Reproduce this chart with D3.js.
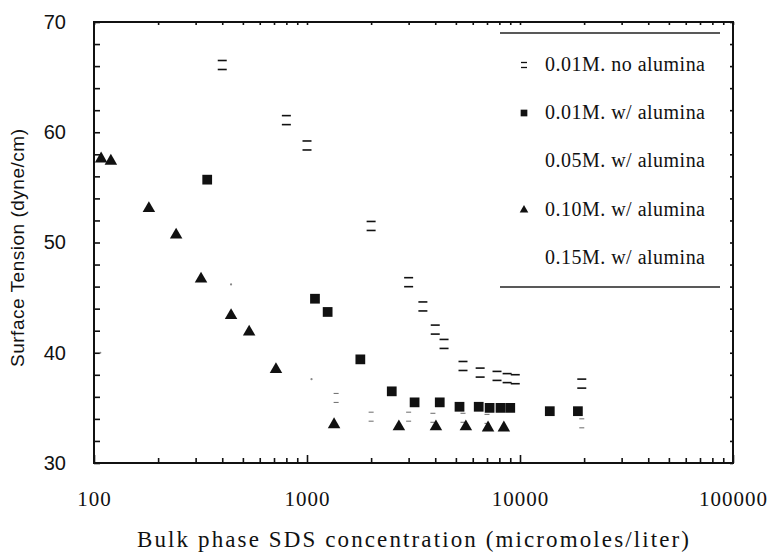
<!DOCTYPE html>
<head>
<meta charset="utf-8">
<title>Surface tension vs SDS</title>
<style>
    body { margin:0; background:#fff; }
    svg { display:block; }
</style>
</head>
<body>
<svg width="768" height="552"></svg>

<script src="https://cdnjs.cloudflare.com/ajax/libs/d3/7.8.5/d3.min.js"></script>
<script>
var xTicks = [100, 1000, 10000, 100000];
var yTicks = [30, 40, 50, 60, 70];
var seriesNames = ["0.01M. no alumina", "0.01M. w/ alumina", "0.05M. w/ alumina", "0.10M. w/ alumina", "0.15M. w/ alumina"];

// 0.01M, no alumina (open squares, only top/bottom edges survive)
var noAlumX = [400, 800, 1000, 2000, 3000, 3500, 4000, 4400, 5400, 6500, 7800, 8700, 9500, 19500];
var noAlumY = [66.1, 61.1, 58.8, 51.5, 46.4, 44.2, 42.1, 40.8, 38.8, 38.2, 37.9, 37.7, 37.6, 37.2];

// 0.01M, with alumina (filled squares)
var m01X = [340, 1090, 1250, 1780, 2500, 3200, 4200, 5200, 6400, 7200, 8100, 9000, 13800, 18700];
var m01Y = [55.7, 44.9, 43.7, 39.4, 36.5, 35.5, 35.5, 35.1, 35.1, 35.0, 35.0, 35.0, 34.7, 34.7];

// 0.05M, with alumina (faint marks)
var m05X = [1370, 2000, 3000, 3900, 5400, 7000, 19500];
var m05Y = [35.9, 34.2, 34.2, 34.1, 34.1, 34.0, 33.6];

// 0.10M, with alumina (filled triangles)
var m10X = [108, 120, 181, 243, 318, 440, 535, 715, 1340, 2700, 4030, 5570, 7080, 8400];
var m10Y = [57.5, 57.3, 53.0, 50.6, 46.6, 43.3, 41.8, 38.4, 33.4, 33.2, 33.2, 33.2, 33.1, 33.1];

// 0.15M, with alumina (barely visible)
var m15X = [107, 440, 1050];
var m15Y = [40.0, 46.2, 37.6];

var svg = d3.select("svg");
var x = d3.scaleLog().domain([100, 100000]).range([94, 733]);
var y = d3.scaleLinear().domain([30, 70]).range([463, 22]);

var minorX = [];
for (var d = 100; d < 100000; d *= 10) {
  for (var k = 2; k <= 9; k++) minorX.push(d * k);
}
var minorY = d3.range(32, 70, 2).filter(function(v){ return v % 10 != 0; });

// frame
svg.append("rect")
    .attr("x", 94).attr("y", 22)
    .attr("width", 733 - 94).attr("height", 463 - 22)
    .attr("fill", "none").attr("stroke", "#111").attr("stroke-width", 2);

function styleAxis(g) {
  g.select(".domain").remove();
  g.selectAll("line").attr("stroke", "#111").attr("stroke-width", 1.6);
}

// bottom axis: major + minor ticks pointing inward
svg.append("g").attr("transform", "translate(0,463)")
    .call(d3.axisBottom(x).tickValues(minorX).tickSize(-5).tickFormat(""))
    .call(styleAxis);
svg.append("g").attr("transform", "translate(0,463)")
    .call(d3.axisBottom(x).tickValues(xTicks).tickSize(-8).tickPadding(28).tickFormat(d3.format("d")))
    .call(styleAxis)
    .selectAll("text")
    .attr("font-family", "Liberation Serif, serif")
    .attr("font-size", 21).attr("letter-spacing", 1).attr("fill", "#111");
svg.append("g").attr("transform", "translate(0,22)")
    .call(d3.axisTop(x).tickValues(minorX.concat(xTicks)).tickSize(-3).tickFormat(""))
    .call(styleAxis);

// left axis
svg.append("g").attr("transform", "translate(94,0)")
    .call(d3.axisLeft(y).tickValues(minorY).tickSize(-6).tickFormat(""))
    .call(styleAxis);
svg.append("g").attr("transform", "translate(94,0)")
    .call(d3.axisLeft(y).tickValues(yTicks).tickSize(-6).tickPadding(28).tickFormat(d3.format("d")))
    .call(styleAxis)
    .selectAll("text")
    .attr("font-family", "Liberation Sans, sans-serif")
    .attr("font-size", 20).attr("fill", "#111");
svg.append("g").attr("transform", "translate(733,0)")
    .call(d3.axisRight(y).tickValues(minorY.concat(yTicks)).tickSize(-3).tickFormat(""))
    .call(styleAxis);

// axis titles
svg.append("text")
    .attr("transform", "translate(24,248) rotate(-90)")
    .attr("text-anchor", "middle")
    .attr("font-family", "Liberation Sans, sans-serif")
    .attr("font-size", 19).attr("fill", "#111")
    .attr("textLength", 238).attr("lengthAdjust", "spacing")
    .text("Surface Tension (dyne/cm)");
svg.append("text")
    .attr("x", 413).attr("y", 547)
    .attr("text-anchor", "middle")
    .attr("font-family", "Liberation Serif, serif")
    .attr("font-size", 23).attr("fill", "#111")
    .attr("textLength", 552).attr("lengthAdjust", "spacing")
    .text("Bulk phase SDS concentration (micromoles/liter)");

// marker helpers
function eqMark(g, cx, cy, w, gap, sw, col) {
  g.append("line").attr("x1", cx - w / 2).attr("x2", cx + w / 2)
      .attr("y1", cy - gap / 2).attr("y2", cy - gap / 2)
      .attr("stroke", col).attr("stroke-width", sw);
  g.append("line").attr("x1", cx - w / 2).attr("x2", cx + w / 2)
      .attr("y1", cy + gap / 2).attr("y2", cy + gap / 2)
      .attr("stroke", col).attr("stroke-width", sw);
}
var sq = d3.symbol().type(d3.symbolSquare);
var tri = d3.symbol().type(d3.symbolTriangle);

var plot = svg.append("g");

var g05 = plot.append("g");
m05X.forEach(function(v, i){ eqMark(g05, x(v), y(m05Y[i]), 5, 9, 1.1, "#777"); });

var g15 = plot.append("g");
g15.selectAll("circle").data(m15X).join("circle")
    .attr("cx", function(d){ return x(d); })
    .attr("cy", function(d, i){ return y(m15Y[i]); })
    .attr("r", 1.1).attr("fill", "#888");

var g00 = plot.append("g");
noAlumX.forEach(function(v, i){ eqMark(g00, x(v), y(noAlumY[i]), 9, 9, 1.6, "#111"); });

plot.append("g").selectAll("path").data(m01X).join("path")
    .attr("d", sq.size(95))
    .attr("transform", function(d, i){ return "translate(" + x(d) + "," + y(m01Y[i]) + ")"; })
    .attr("fill", "#111");

plot.append("g").selectAll("path").data(m10X).join("path")
    .attr("d", tri.size(68))
    .attr("transform", function(d, i){ return "translate(" + x(d) + "," + (y(m10Y[i]) - 1) + ")"; })
    .attr("fill", "#111");

// legend
var leg = svg.append("g");
leg.append("line").attr("x1", 500).attr("x2", 720).attr("y1", 33).attr("y2", 33)
    .attr("stroke", "#222").attr("stroke-width", 1.5);
leg.append("line").attr("x1", 500).attr("x2", 720).attr("y1", 287).attr("y2", 287)
    .attr("stroke", "#222").attr("stroke-width", 1.5);
var legY = [65, 113, 161, 210, 258];
seriesNames.forEach(function(name, i){
  leg.append("text")
      .attr("x", 545).attr("y", legY[i] + 6)
      .attr("font-family", "Liberation Serif, serif")
      .attr("font-size", 20).attr("fill", "#111")
      .attr("textLength", 160).attr("lengthAdjust", "spacing")
      .text(name);
});
eqMark(leg, 524, legY[0], 6, 5, 1.3, "#111");
leg.append("path").attr("d", sq.size(45))
    .attr("transform", "translate(524," + legY[1] + ")").attr("fill", "#111");
leg.append("path").attr("d", tri.size(32))
    .attr("transform", "translate(524," + legY[3] + ")").attr("fill", "#111");
</script>
</body>
